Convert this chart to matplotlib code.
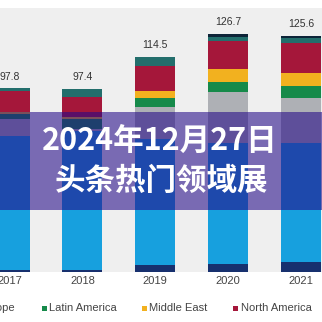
import numpy as np
import matplotlib
matplotlib.use("Agg")
import matplotlib.pyplot as plt
from matplotlib.patches import Rectangle

years = ["2017", "2018", "2019", "2020", "2021"]
totals = [97.8, 97.4, 114.5, 126.7, 125.6]

# stack, von unten nach oben
base_navy = [1.1, 1.1, 3.7, 4.3, 5.3]
asia_pac = [71.1, 73.9, 67.2, 64.5, 63.4]
europe = [9.0, 1.1, 17.0, 26.6, 23.9]
latin_am = [2.7, 5.3, 4.8, 5.8, 6.4]
middle_east = [1.1, 1.1, 3.7, 6.4, 6.9]
north_am = [11.2, 10.6, 12.8, 15.4, 15.9]
teal_seg = [1.6, 4.3, 5.3, 2.1, 2.7]
top_navy = [0.0, 0.0, 0.0, 1.6, 1.1]

series = [base_navy, asia_pac, europe, latin_am, middle_east, north_am, teal_seg, top_navy]
colors = ["#17306e", "#17a0de", "#aeb0b5", "#168a4a", "#f2b11f", "#a5173a", "#236e6c", "#0d2438"]

legend_labels = ["Western Europe", "Latin America", "Middle East", "North America"]
legend_colors = ["#aeb0b5", "#168a4a", "#f2b11f", "#a5173a"]

W = H = 322.0
fig = plt.figure(figsize=(3.22, 3.22), dpi=100, facecolor="white")
ax = fig.add_axes([0, (W - 272) / H, 1, (272 - 8) / H])
ax.set_facecolor("#efefef")

x = np.arange(len(years))
bottom = np.zeros(len(years))
for vals, c in zip(series, colors):
    ax.bar(x, vals, 0.55, bottom=bottom, color=c, lw=0)
    bottom += np.array(vals)

for xi, t, top in zip(x, totals, bottom):
    ax.annotate(f"{t:.1f}", xy=(xi, top), xytext=(0, 4.5), textcoords="offset points",
                ha="center", va="bottom", fontsize=7.5, color="#333333",
                family="Liberation Sans")

ax.set_xlim(-9.5 / 72.9, (W - 9.5) / 72.9)
ax.set_ylim(0, (272 - 8) / 1.882)
ax.set_xticks(x)
ax.set_xticklabels(years, fontsize=8, color="#444444", family="Liberation Sans")
ax.tick_params(axis="x", length=0, pad=3)
ax.set_yticks([])
for s in ax.spines.values():
    s.set_visible(False)

# legende (links abgeschnitten)
ly = (W - 308) / H
fig.text(15 / W, ly, legend_labels[0], ha="right", va="center", fontsize=8,
         color="#444444", family="Liberation Sans")
for lab, c, mx in zip(legend_labels[1:], legend_colors[1:], [44.5, 144.5, 236]):
    fig.patches.append(Rectangle(((mx - 2.5) / W, ly - 2.5 / H), 5 / W, 5 / H,
                                 transform=fig.transFigure, color=c, lw=0))
    fig.text((mx + 4.5) / W, ly, lab, ha="left", va="center", fontsize=8,
             color="#444444", family="Liberation Sans")

# halbtransparentes band mit titel
fig.patches.append(Rectangle((0, (W - 210) / H), 1, 98 / H, transform=fig.transFigure,
                             color="#240a88", alpha=0.58, lw=0, zorder=5))
fig.text(0.497, (W - 141) / H, "2024年12月27日", ha="center", va="center", fontsize=22,
         fontweight="heavy", color="white", family=["Noto Sans CJK SC", "DejaVu Sans"], zorder=6)
fig.text(0.503, (W - 181) / H, "头条热门领域展", ha="center", va="center", fontsize=22,
         fontweight="heavy", color="white", family=["Noto Sans CJK SC", "DejaVu Sans"], zorder=6)

fig.savefig("out.png", dpi=100)
